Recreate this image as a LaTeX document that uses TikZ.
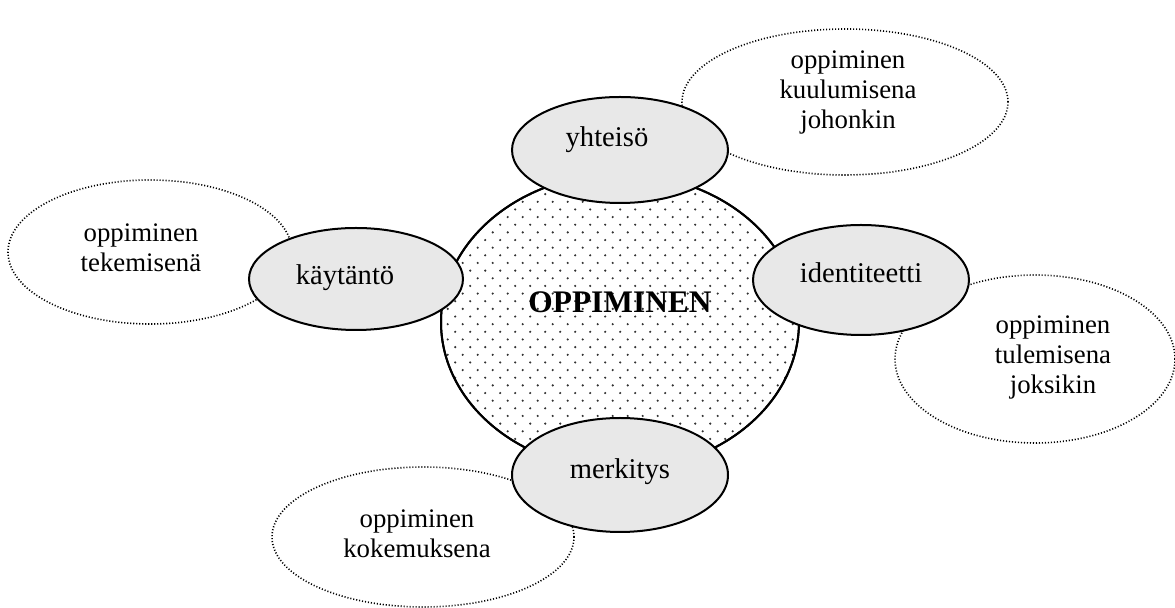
\documentclass[tikz,border=0pt]{standalone}
\usepackage{fontspec}
\setmainfont{Liberation Serif}
\usetikzlibrary{shapes.geometric}
\definecolor{bubblegray}{RGB}{232,232,232}
\definecolor{dotgray}{RGB}{50,50,50}
\tikzset{
  outerbubble/.style={ellipse, draw=black, line width=0.8pt,
    dash pattern=on 0.55pt off 0.95pt, fill=white, inner sep=0pt},
  aspectbubble/.style={ellipse, draw=black, line width=1pt,
    fill=bubblegray, inner sep=0pt},
  aspecttext/.style={anchor=base, inner sep=0pt,
    font=\fontsize{14.3pt}{16pt}\selectfont},
  corebubble/.style={ellipse, draw=black, line width=1pt, inner sep=0pt},
  outertext/.style={align=center, inner sep=0pt,
    font=\fontsize{13.4pt}{15pt}\selectfont},
}
\begin{document}
\begin{tikzpicture}[x=0.5pt, y=-0.5pt]
\useasboundingbox (0,0) rectangle (1175,608);

% outer dotted bubbles
\node[outerbubble, minimum width=163pt, minimum height=73pt] (kuulu) at (845,102) {};
\node[outerbubble, minimum width=142pt, minimum height=72pt] (teke) at (150,252) {};
\node[outerbubble, minimum width=140pt, minimum height=84pt] (tule) at (1035,359) {};
\node[outerbubble, minimum width=151pt, minimum height=70pt] (koke) at (423,537) {};

% central bubble with a dotted texture
\node[corebubble, fill=white, minimum width=179pt, minimum height=148pt] (core) at (620,322) {};
\begin{scope}
  \clip (620,322) ellipse [x radius=179, y radius=148];
  \foreach \k in {0,...,42} {
    \pgfmathsetmacro{\yy}{171.2+7.65*\k}
    \pgfmathsetmacro{\xo}{mod(\k,2)==0 ? 432.7 : 440.2}
    \foreach \m in {0,...,24} {
      \fill[dotgray] (\xo+15*\m,\yy) circle[radius=0.6pt];
    }
  }
\end{scope}
\node[corebubble, minimum width=179pt, minimum height=148pt] (coreline) at (620,322) {};
\node[anchor=base, font=\bfseries\fontsize{15.7pt}{18pt}\selectfont, inner sep=0pt] (oppi) at (620,313) {OPPIMINEN};

% the four aspects
\node[aspectbubble, minimum width=108pt, minimum height=53pt] (yht) at (620,150) {};
\node[aspectbubble, minimum width=107pt, minimum height=51pt] (kay) at (356,279) {};
\node[aspectbubble, minimum width=108pt, minimum height=55pt] (ide) at (861,280) {};
\node[aspectbubble, minimum width=108pt, minimum height=57pt] (mer) at (620,475) {};
\node[aspecttext] (yhtt) at (607,147) {yhteisö};
\node[aspecttext] (kayt) at (345,285) {käytäntö};
\node[aspecttext] (idet) at (861,283) {identiteetti};
\node[aspecttext] (mert) at (620,479) {merkitys};

% texts of the outer bubbles
\node[outertext] (t1) at (848,92) {oppiminen\\kuulumisena\\johonkin};
\node[outertext] (t2) at (141,248) {oppiminen\\tekemisenä};
\node[outertext] (t3) at (1053,357) {oppiminen\\tulemisena\\joksikin};
\node[outertext] (t4) at (417,534) {oppiminen\\kokemuksena};
\end{tikzpicture}
\end{document}
